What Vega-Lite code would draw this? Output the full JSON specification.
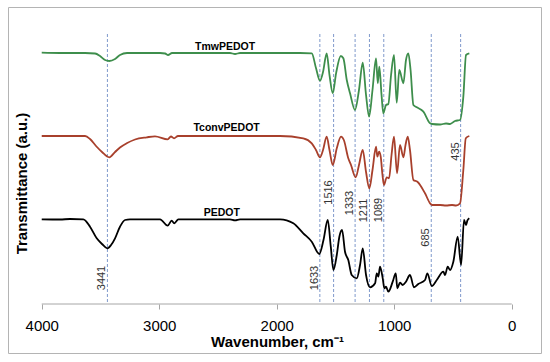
{
  "$schema": "https://vega.github.io/schema/vega-lite/v6.json",
  "width": 533,
  "height": 346,
  "autosize": "none",
  "padding": {"left": 8, "top": 7, "right": 9, "bottom": 9},
  "background": "#ffffff",
  "config": {
    "view": {"stroke": "#b4b4b4", "strokeWidth": 1},
    "font": "Liberation Sans"
  },
  "datasets": {
    "spectra": [
      {"series":"TmwPEDOT","wn":4000,"t":251.3},{"series":"TmwPEDOT","wn":3844,"t":251},{"series":"TmwPEDOT","wn":3631,"t":251},{"series":"TmwPEDOT","wn":3546,"t":250.5},{"series":"TmwPEDOT","wn":3504,"t":248},{"series":"TmwPEDOT","wn":3461,"t":244},{"series":"TmwPEDOT","wn":3425,"t":243},{"series":"TmwPEDOT","wn":3376,"t":245},{"series":"TmwPEDOT","wn":3334,"t":249},{"series":"TmwPEDOT","wn":3274,"t":251},{"series":"TmwPEDOT","wn":2993,"t":251},{"series":"TmwPEDOT","wn":2950,"t":250.5},{"series":"TmwPEDOT","wn":2925,"t":249},{"series":"TmwPEDOT","wn":2891,"t":251},{"series":"TmwPEDOT","wn":2398,"t":251},{"series":"TmwPEDOT","wn":2355,"t":250},{"series":"TmwPEDOT","wn":2312,"t":251},{"series":"TmwPEDOT","wn":1802,"t":251},{"series":"TmwPEDOT","wn":1702,"t":250.7},{"series":"TmwPEDOT","wn":1666,"t":236},{"series":"TmwPEDOT","wn":1632,"t":223.3},{"series":"TmwPEDOT","wn":1606,"t":232},{"series":"TmwPEDOT","wn":1575,"t":250.7},{"series":"TmwPEDOT","wn":1551,"t":229},{"series":"TmwPEDOT","wn":1523,"t":210.7},{"series":"TmwPEDOT","wn":1495,"t":230.7},{"series":"TmwPEDOT","wn":1455,"t":248},{"series":"TmwPEDOT","wn":1433,"t":245.7},{"series":"TmwPEDOT","wn":1404,"t":224},{"series":"TmwPEDOT","wn":1376,"t":210.7},{"series":"TmwPEDOT","wn":1334,"t":194},{"series":"TmwPEDOT","wn":1300,"t":214},{"series":"TmwPEDOT","wn":1268,"t":241.3},{"series":"TmwPEDOT","wn":1240,"t":209},{"series":"TmwPEDOT","wn":1214,"t":187.3},{"series":"TmwPEDOT","wn":1185,"t":214},{"series":"TmwPEDOT","wn":1155,"t":245.7},{"series":"TmwPEDOT","wn":1140,"t":220.7},{"series":"TmwPEDOT","wn":1127,"t":237.3},{"series":"TmwPEDOT","wn":1108,"t":209},{"series":"TmwPEDOT","wn":1093,"t":190.7},{"series":"TmwPEDOT","wn":1070,"t":199},{"series":"TmwPEDOT","wn":1050,"t":200},{"series":"TmwPEDOT","wn":1027,"t":229},{"series":"TmwPEDOT","wn":1002,"t":249},{"series":"TmwPEDOT","wn":979,"t":201.3},{"series":"TmwPEDOT","wn":957,"t":234},{"series":"TmwPEDOT","wn":922,"t":220.7},{"series":"TmwPEDOT","wn":900,"t":244},{"series":"TmwPEDOT","wn":880,"t":250.7},{"series":"TmwPEDOT","wn":861,"t":234},{"series":"TmwPEDOT","wn":837,"t":199},{"series":"TmwPEDOT","wn":808,"t":196.7},{"series":"TmwPEDOT","wn":752,"t":192.3},{"series":"TmwPEDOT","wn":695,"t":180.7},{"series":"TmwPEDOT","wn":678,"t":180},{"series":"TmwPEDOT","wn":610,"t":179.5},{"series":"TmwPEDOT","wn":559,"t":180.5},{"series":"TmwPEDOT","wn":525,"t":180},{"series":"TmwPEDOT","wn":483,"t":183},{"series":"TmwPEDOT","wn":440,"t":184},{"series":"TmwPEDOT","wn":412,"t":207.3},{"series":"TmwPEDOT","wn":389,"t":249},{"series":"TmwPEDOT","wn":361,"t":250.7},
      {"series":"TconvPEDOT","wn":4000,"t":168},{"series":"TconvPEDOT","wn":3844,"t":168},{"series":"TconvPEDOT","wn":3631,"t":168},{"series":"TconvPEDOT","wn":3589,"t":165},{"series":"TconvPEDOT","wn":3538,"t":158},{"series":"TconvPEDOT","wn":3487,"t":152},{"series":"TconvPEDOT","wn":3425,"t":146.7},{"series":"TconvPEDOT","wn":3376,"t":152},{"series":"TconvPEDOT","wn":3334,"t":156.5},{"series":"TconvPEDOT","wn":3277,"t":160.7},{"series":"TconvPEDOT","wn":3206,"t":164.5},{"series":"TconvPEDOT","wn":3106,"t":166.7},{"series":"TconvPEDOT","wn":3036,"t":167.7},{"series":"TconvPEDOT","wn":2928,"t":164.7},{"series":"TconvPEDOT","wn":2900,"t":167.5},{"series":"TconvPEDOT","wn":2874,"t":165.7},{"series":"TconvPEDOT","wn":2840,"t":168},{"series":"TconvPEDOT","wn":1972,"t":168},{"series":"TconvPEDOT","wn":1774,"t":165.7},{"series":"TconvPEDOT","wn":1702,"t":160.7},{"series":"TconvPEDOT","wn":1666,"t":154},{"series":"TconvPEDOT","wn":1632,"t":146.7},{"series":"TconvPEDOT","wn":1606,"t":154},{"series":"TconvPEDOT","wn":1575,"t":167.3},{"series":"TconvPEDOT","wn":1551,"t":154},{"series":"TconvPEDOT","wn":1523,"t":139},{"series":"TconvPEDOT","wn":1489,"t":155.7},{"series":"TconvPEDOT","wn":1453,"t":167.3},{"series":"TconvPEDOT","wn":1429,"t":164},{"series":"TconvPEDOT","wn":1391,"t":145.7},{"series":"TconvPEDOT","wn":1368,"t":139},{"series":"TconvPEDOT","wn":1328,"t":126.7},{"series":"TconvPEDOT","wn":1300,"t":139},{"series":"TconvPEDOT","wn":1268,"t":154},{"series":"TconvPEDOT","wn":1240,"t":132},{"series":"TconvPEDOT","wn":1212,"t":115.7},{"series":"TconvPEDOT","wn":1185,"t":134},{"series":"TconvPEDOT","wn":1155,"t":157.3},{"series":"TconvPEDOT","wn":1144,"t":147.3},{"series":"TconvPEDOT","wn":1129,"t":152.3},{"series":"TconvPEDOT","wn":1115,"t":147.3},{"series":"TconvPEDOT","wn":1100,"t":129},{"series":"TconvPEDOT","wn":1087,"t":119},{"series":"TconvPEDOT","wn":1064,"t":126.7},{"series":"TconvPEDOT","wn":1044,"t":125.7},{"series":"TconvPEDOT","wn":1023,"t":149},{"series":"TconvPEDOT","wn":1002,"t":167.3},{"series":"TconvPEDOT","wn":976,"t":130.7},{"series":"TconvPEDOT","wn":951,"t":159},{"series":"TconvPEDOT","wn":922,"t":146.7},{"series":"TconvPEDOT","wn":904,"t":159},{"series":"TconvPEDOT","wn":885,"t":167.3},{"series":"TconvPEDOT","wn":866,"t":154},{"series":"TconvPEDOT","wn":837,"t":124},{"series":"TconvPEDOT","wn":803,"t":122.3},{"series":"TconvPEDOT","wn":738,"t":110.7},{"series":"TconvPEDOT","wn":695,"t":100.7},{"series":"TconvPEDOT","wn":678,"t":99},{"series":"TconvPEDOT","wn":610,"t":99},{"series":"TconvPEDOT","wn":559,"t":98.5},{"series":"TconvPEDOT","wn":508,"t":99},{"series":"TconvPEDOT","wn":474,"t":98.5},{"series":"TconvPEDOT","wn":440,"t":100.7},{"series":"TconvPEDOT","wn":412,"t":134},{"series":"TconvPEDOT","wn":391,"t":165.7},{"series":"TconvPEDOT","wn":361,"t":168},
      {"series":"PEDOT","wn":4000,"t":84.7},{"series":"PEDOT","wn":3844,"t":84.5},{"series":"PEDOT","wn":3759,"t":85},{"series":"PEDOT","wn":3646,"t":84.7},{"series":"PEDOT","wn":3589,"t":77.3},{"series":"PEDOT","wn":3532,"t":65.7},{"series":"PEDOT","wn":3487,"t":60},{"series":"PEDOT","wn":3442,"t":55.7},{"series":"PEDOT","wn":3410,"t":59},{"series":"PEDOT","wn":3376,"t":65.7},{"series":"PEDOT","wn":3334,"t":77.3},{"series":"PEDOT","wn":3291,"t":84},{"series":"PEDOT","wn":3249,"t":84.7},{"series":"PEDOT","wn":2993,"t":84.7},{"series":"PEDOT","wn":2928,"t":78.3},{"series":"PEDOT","wn":2894,"t":83.3},{"series":"PEDOT","wn":2872,"t":80.7},{"series":"PEDOT","wn":2837,"t":84.7},{"series":"PEDOT","wn":2398,"t":84.7},{"series":"PEDOT","wn":2355,"t":83.7},{"series":"PEDOT","wn":2312,"t":84.7},{"series":"PEDOT","wn":1972,"t":84.7},{"series":"PEDOT","wn":1859,"t":80.7},{"series":"PEDOT","wn":1774,"t":70.7},{"series":"PEDOT","wn":1702,"t":62.3},{"series":"PEDOT","wn":1638,"t":50},{"series":"PEDOT","wn":1602,"t":64},{"series":"PEDOT","wn":1566,"t":84},{"series":"PEDOT","wn":1540,"t":57.3},{"series":"PEDOT","wn":1518,"t":34},{"series":"PEDOT","wn":1489,"t":49},{"series":"PEDOT","wn":1467,"t":67.3},{"series":"PEDOT","wn":1444,"t":74},{"series":"PEDOT","wn":1419,"t":52.3},{"series":"PEDOT","wn":1391,"t":44},{"series":"PEDOT","wn":1362,"t":29},{"series":"PEDOT","wn":1319,"t":25.7},{"series":"PEDOT","wn":1291,"t":39},{"series":"PEDOT","wn":1268,"t":55.7},{"series":"PEDOT","wn":1240,"t":29},{"series":"PEDOT","wn":1206,"t":16.7},{"series":"PEDOT","wn":1163,"t":20.7},{"series":"PEDOT","wn":1149,"t":30.7},{"series":"PEDOT","wn":1135,"t":27.3},{"series":"PEDOT","wn":1121,"t":37.3},{"series":"PEDOT","wn":1098,"t":25.7},{"series":"PEDOT","wn":1084,"t":15.7},{"series":"PEDOT","wn":1070,"t":17.3},{"series":"PEDOT","wn":1050,"t":12.3},{"series":"PEDOT","wn":1013,"t":22.3},{"series":"PEDOT","wn":987,"t":30.7},{"series":"PEDOT","wn":974,"t":15.7},{"series":"PEDOT","wn":951,"t":21.3},{"series":"PEDOT","wn":928,"t":19},{"series":"PEDOT","wn":900,"t":22.3},{"series":"PEDOT","wn":866,"t":29},{"series":"PEDOT","wn":832,"t":16.7},{"series":"PEDOT","wn":795,"t":20},{"series":"PEDOT","wn":738,"t":24},{"series":"PEDOT","wn":718,"t":30.7},{"series":"PEDOT","wn":681,"t":18},{"series":"PEDOT","wn":638,"t":24},{"series":"PEDOT","wn":582,"t":32.3},{"series":"PEDOT","wn":568,"t":29},{"series":"PEDOT","wn":545,"t":37.3},{"series":"PEDOT","wn":525,"t":34},{"series":"PEDOT","wn":497,"t":42.3},{"series":"PEDOT","wn":460,"t":67.3},{"series":"PEDOT","wn":431,"t":39},{"series":"PEDOT","wn":406,"t":84},{"series":"PEDOT","wn":389,"t":79},{"series":"PEDOT","wn":378,"t":83.3},{"series":"PEDOT","wn":361,"t":85.7}
    ],
    "peaks": [
      {"wn":3441,"t":270,"t0":0,"label":"3441","ly":26},
      {"wn":1633,"t":270,"t0":0,"label":"1633","ly":26},
      {"wn":1516,"t":270,"t0":0,"label":"1516","ly":111.5},
      {"wn":1333,"t":270,"t0":0,"label":"1333","ly":101},
      {"wn":1211,"t":270,"t0":0,"label":"1211","ly":93.5},
      {"wn":1089,"t":270,"t0":0,"label":"1089","ly":94},
      {"wn":685,"t":270,"t0":0,"label":"685","ly":66.5},
      {"wn":435,"t":270,"t0":0,"label":"435","ly":152.5}
    ],
    "names": [
      {"wn":2440,"t":257.5,"name":"TmwPEDOT"},
      {"wn":2427,"t":176.5,"name":"TconvPEDOT"},
      {"wn":2468,"t":91,"name":"PEDOT"}
    ],
    "baseline": [
      {"wn":4000,"wn2":0,"t":0}
    ]
  },
  "layer": [
    {
      "data": {"name": "baseline"},
      "mark": {"type": "rule", "color": "#a6a6a6", "strokeWidth": 1},
      "encoding": {
        "x": {"field": "wn", "type": "quantitative",
          "scale": {"domain": [-249, 4287], "reverse": true, "nice": false, "zero": false},
          "axis": {
            "title": "Wavenumber, cm⁻¹",
            "values": [4000, 3000, 2000, 1000, 0],
            "format": "d",
            "offset": -49,
            "domain": false,
            "grid": false,
            "tickColor": "#a6a6a6",
            "tickSize": 5,
            "labelFont": "Liberation Sans",
            "labelFontSize": 15,
            "labelColor": "#000000",
            "labelPadding": 9,
            "titleFont": "Liberation Sans",
            "titleFontSize": 15,
            "titleFontWeight": "bold",
            "titleColor": "#000000",
            "titleX": 269,
            "titleY": 42,
            "titleBaseline": "alphabetic"
          }
        },
        "x2": {"field": "wn2"},
        "y": {"field": "t", "type": "quantitative",
          "scale": {"domain": [-49, 297], "nice": false, "zero": false},
          "axis": {
            "title": "Transmittance (a.u.)",
            "labels": false,
            "ticks": false,
            "domain": false,
            "grid": false,
            "titleFont": "Liberation Sans",
            "titleFontSize": 15,
            "titleFontWeight": "bold",
            "titleColor": "#000000",
            "titleX": 13,
            "titleY": 176,
            "titleAngle": 270,
            "titleAlign": "center",
            "titleBaseline": "middle"
          }
        }
      }
    },
    {
      "data": {"name": "peaks"},
      "mark": {"type": "rule", "color": "#7f99cc", "strokeWidth": 1, "strokeDash": [3, 2]},
      "encoding": {
        "x": {"field": "wn", "type": "quantitative"},
        "y": {"field": "t", "type": "quantitative"},
        "y2": {"field": "t0"}
      }
    },
    {
      "data": {"name": "spectra"},
      "mark": {"type": "line", "strokeWidth": 1.8, "interpolate": "monotone"},
      "encoding": {
        "x": {"field": "wn", "type": "quantitative"},
        "y": {"field": "t", "type": "quantitative"},
        "color": {"field": "series", "type": "nominal",
          "scale": {"domain": ["TmwPEDOT", "TconvPEDOT", "PEDOT"], "range": ["#3e8e4c", "#a8402c", "#000000"]},
          "legend": null}
      }
    },
    {
      "data": {"name": "names"},
      "mark": {"type": "text", "font": "Liberation Sans", "fontSize": 10.5, "fontWeight": "bold", "color": "#000000", "align": "center", "baseline": "middle"},
      "encoding": {
        "x": {"field": "wn", "type": "quantitative"},
        "y": {"field": "t", "type": "quantitative"},
        "text": {"field": "name"}
      }
    },
    {
      "data": {"name": "peaks"},
      "mark": {"type": "text", "font": "Liberation Sans", "fontSize": 11, "color": "#333333", "angle": 270, "align": "center", "baseline": "bottom"},
      "encoding": {
        "x": {"field": "wn", "type": "quantitative"},
        "y": {"field": "ly", "type": "quantitative"},
        "text": {"field": "label"}
      }
    }
  ]
}
